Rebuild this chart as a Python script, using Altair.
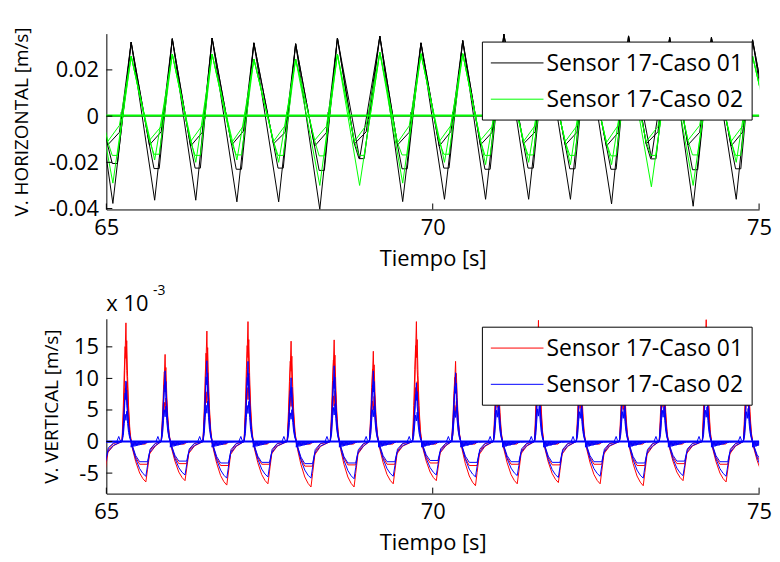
import altair as alt
import pandas as pd

FONT = "Open Sans"
FS_TICK = 22
FS_XT = 22
FS_YT = 19
FS_LEG = 23
W = 657
H1 = 177
H2 = 176

x_ticks = [65, 70, 75]
h_ticks = [-0.04, -0.02, 0.0, 0.02]
v_ticks = [-5, 0, 5, 10, 15]
h_domain = [-0.0404, 0.0357]
v_domain = [-8.25, 19.45]
legend_labels = ["Sensor 17-Caso 01", "Sensor 17-Caso 02"]

# ---------------- top panel: V. HORIZONTAL [m/s] ----------------
h_peak_t = [64.75, 65.38, 66.01, 66.62, 67.26, 67.90, 68.54, 69.19, 69.82,
            70.46, 71.09, 71.73, 72.36, 73.00, 73.63, 74.27, 74.90, 75.53]
h_trough_t = [65.10, 65.74, 66.37, 67.00, 67.64, 68.27, 68.88, 69.54, 70.18,
              70.81, 71.47, 72.11, 72.74, 73.35, 73.99, 74.65, 75.28]
blk_peak = [0.031, 0.032, 0.0335, 0.0338, 0.0317, 0.0313, 0.0338, 0.0346, 0.0317,
            0.0327, 0.0355, 0.032, 0.031, 0.0347, 0.034, 0.034, 0.033, 0.032]
blk_deep = [-0.0378, -0.0364, -0.0364, -0.0371, -0.0371, -0.0404, -0.0184, -0.037, -0.036,
            -0.036, -0.036, -0.036, -0.038, -0.018, -0.039, -0.036, -0.036]
blk_knee = [-0.0125, -0.0125, -0.013, -0.0125, -0.012, -0.013, -0.012, -0.0125, -0.013,
            -0.0125, -0.012, -0.0125, -0.013, -0.012, -0.0125, -0.013, -0.0125]
blk_mid = [-0.0205, -0.0227, -0.0225, -0.023, -0.0225, -0.0235, -0.0184, -0.0228, -0.0225,
           -0.023, -0.0225, -0.0228, -0.023, -0.0185, -0.0232, -0.0228, -0.0225]
blk_low = [-0.007, -0.0068, -0.007, -0.0065, -0.007, -0.0072, -0.0068, -0.007, -0.0066,
           -0.007, -0.0068, -0.007, -0.0072, -0.0068, -0.007, -0.0068, -0.007]
grn_peak = [0.025, 0.026, 0.0268, 0.0268, 0.0247, 0.0247, 0.0268, 0.0276, 0.027,
            0.027, 0.026, 0.026, 0.026, 0.026, 0.027, 0.026, 0.026, 0.026]
grn_deep = [-0.029, -0.019, -0.020, -0.019, -0.020, -0.030, -0.030, -0.029, -0.020,
            -0.021, -0.020, -0.021, -0.021, -0.0306, -0.030, -0.020, -0.020]
grn_knee = [-0.011, -0.0105, -0.011, -0.0115, -0.011, -0.0105, -0.011, -0.0115, -0.011,
            -0.0105, -0.011, -0.011, -0.0115, -0.011, -0.0105, -0.011, -0.011]
grn_mid = [-0.017, -0.0165, -0.017, -0.0168, -0.017, -0.0172, -0.017, -0.0168, -0.0165,
           -0.017, -0.0168, -0.017, -0.0172, -0.017, -0.0168, -0.017, -0.0165]
grn_low = [-0.004, -0.0045, -0.004, -0.0042, -0.004, -0.0045, -0.004, -0.0042, -0.004,
           -0.0045, -0.004, -0.0042, -0.004, -0.0045, -0.004, -0.0042, -0.004]
grn_zero = [0.0003, 0.0003]
h_zero_t = [64.9, 75.1]
# offsets of the knee / flat bottom / zero-crossing marks, read from one cycle
H_KNEE_DT = -0.08
H_FLAT_DT = [-0.01, 0.07]
H_LOW_DT = 0.10
H_CROSS_DT = [0.124, 0.13, 0.136, 0.142]
H_CROSS_V = [0.0, 0.0018, -0.0012, 0.0]

# ---------------- bottom panel: V. VERTICAL [m/s] (x 1e-3) ----------------
v_spike_t = [64.66, 65.30, 65.90, 66.54, 67.17, 67.83, 68.49, 69.09, 69.75,
             70.35, 70.99, 71.62, 72.26, 72.92, 73.53, 74.19, 74.82, 75.46]
red_peak = [15.0, 18.8, 13.8, 17.5, 19.0, 15.9, 16.1, 14.3, 19.0,
            12.7, 15.5, 19.2, 15.0, 14.5, 15.5, 19.3, 16.0, 15.0]
blue_peak = [10.0, 9.6, 11.2, 12.8, 12.7, 10.1, 12.0, 11.2, 9.3,
             10.9, 11.0, 11.5, 10.5, 10.5, 11.0, 11.0, 10.5, 10.0]
red_deep = [-5.8, -6.4, -6.2, -6.9, -6.7, -7.2, -7.2, -6.7, -6.2,
            -7.0, -6.7, -6.5, -6.7, -7.0, -6.2, -6.4, -6.0]
blue_deep = [-4.5, -5.5, -5.3, -5.8, -5.6, -5.8, -5.9, -5.5, -5.3,
             -5.6, -5.4, -5.7, -5.5, -5.8, -5.4, -5.5, -5.2]
red_mid = [-3.2, -3.6, -3.5, -3.8, -3.6, -3.9, -3.7, -3.6, -3.4,
           -3.8, -3.6, -3.7, -3.6, -3.8, -3.5, -3.6, -3.4]
blue_mid = [-3.0, -3.2, -3.1, -3.4, -3.3, -3.5, -3.4, -3.2, -3.0,
            -3.3, -3.2, -3.3, -3.2, -3.4, -3.1, -3.2, -3.0]
# spike profile (time offset, fraction of the spike height) for the three traces
SPK_DT = [-0.06, -0.04, -0.025, -0.012, 0.0, 0.012, 0.025, 0.04, 0.06, 0.08]
SPK_A = [0.0, 0.2, 0.45, 0.75, 1.0, 0.6, 0.45, 0.25, 0.08, 0.0]
SPK_B = [0.0, 0.3, 0.6, 0.8, 0.7, 0.85, 0.55, 0.3, 0.1, 0.0]
SPK_C = [0.0, 0.1, 0.3, 0.45, 0.35, 0.5, 0.3, 0.15, 0.05, 0.0]
# negative lobe profiles (time offset, fraction of the lobe depth)
DEEP_DT = [0.10, 0.15, 0.21, 0.26, 0.305, 0.33, 0.37, 0.45]
DEEP_FR = [0.18, 0.5, 0.78, 0.92, 1.0, 0.7, 0.22, 0.05]
MID_DT = [0.10, 0.15, 0.21, 0.33, 0.36, 0.45]
MID_FR = [0.22, 0.7, 1.0, 1.0, 0.55, 0.2]
# decaying ringing just below zero after each spike
OSC_DT = [0.08, 0.09, 0.10, 0.11, 0.12, 0.13, 0.14, 0.15, 0.16, 0.17, 0.18, 0.19, 0.20, 0.21,
          0.22, 0.23, 0.24, 0.25, 0.26, 0.27, 0.28, 0.29, 0.30, 0.31, 0.32, 0.33, 0.34, 0.35, 0.36]
OSC_BLUE = [-0.9, 0, -0.85, 0, -0.8, 0, -0.75, 0, -0.7, 0, -0.65, 0, -0.6, 0,
            -0.55, 0, -0.5, 0, -0.45, 0, -0.4, 0, -0.3, 0, -0.25, 0, -0.2, 0, -0.1]
OSC_RED_DT = [0.08, 0.30, 0.33]
OSC_RED = [-0.4, -0.4, 0.0]
BUMP_DT = [-0.14, -0.11, -0.09]
BUMP_V = [0.0, 0.8, 0.2]
v_zero_t = [64.9, 75.1]
v_zero = [0.0, 0.0]

rows_top, rows_bot = [], []


def add(rows, name, pts):
    for i, (t, v) in enumerate(pts):
        rows.append({"t": t, "v": v, "trace": name, "i": i})


def h_deep(pk_v, tr_v):
    pts = []
    for k in range(len(h_trough_t)):
        pts += [(h_peak_t[k], pk_v[k]), (h_trough_t[k], tr_v[k])]
    pts.append((h_peak_t[-1], pk_v[-1]))
    return pts


def h_mid(pk_v, knee, mid):
    pts = []
    for k in range(len(h_trough_t)):
        tr = h_trough_t[k]
        pts += [(h_peak_t[k], pk_v[k]), (tr + H_KNEE_DT, knee[k]),
                (tr + H_FLAT_DT[0], mid[k]), (tr + H_FLAT_DT[1], mid[k])]
    pts.append((h_peak_t[-1], pk_v[-1]))
    return pts


def h_low(pk_v, knee, low):
    pts = []
    for k in range(len(h_trough_t)):
        tr = h_trough_t[k]
        pts += [(h_peak_t[k], pk_v[k]), (tr + H_KNEE_DT, knee[k]), (tr + H_LOW_DT, low[k])]
    pts.append((h_peak_t[-1], pk_v[-1]))
    return pts


def h_flat():
    pts = [(h_zero_t[0], 0.0)]
    for tr in h_trough_t:
        pts += [(tr + d, v) for d, v in zip(H_CROSS_DT, H_CROSS_V)]
    pts.append((h_zero_t[1], 0.0))
    return pts


add(rows_top, "k_flat", h_flat())
add(rows_top, "k_low", h_low(blk_peak, blk_knee, blk_low))
add(rows_top, "k_mid", h_mid(blk_peak, blk_knee, blk_mid))
add(rows_top, "k_deep", h_deep(blk_peak, blk_deep))
add(rows_top, "g_low", h_low(grn_peak, grn_knee, grn_low))
add(rows_top, "g_mid", h_mid(grn_peak, grn_knee, grn_mid))
add(rows_top, "g_deep", h_deep(grn_peak, grn_deep))
add(rows_top, "g_flat", list(zip(h_zero_t, grn_zero)))


def v_trace(peaks, frac, lobe_dt, lobe_fr, lobe_v):
    pts = []
    n = len(v_spike_t)
    for k in range(n):
        s = v_spike_t[k]
        pts += [(s + d, f * peaks[k]) for d, f in zip(SPK_DT, frac)]
        if k < n - 1:
            pts += [(s + d, f * lobe_v[k]) for d, f in zip(lobe_dt, lobe_fr)]
    return pts


def v_ring(peaks, frac, osc_dt, osc_v, bump):
    pts = []
    n = len(v_spike_t)
    for k in range(n):
        s = v_spike_t[k]
        pts += [(s + d, f * peaks[k]) for d, f in zip(SPK_DT, frac)]
        if k < n - 1:
            pts += [(s + d, v) for d, v in zip(osc_dt, osc_v)]
            if bump:
                nxt = v_spike_t[k + 1]
                pts += [(nxt + d, v) for d, v in zip(BUMP_DT, BUMP_V)]
    return pts


add(rows_bot, "r_ring", v_ring(red_peak, SPK_C, OSC_RED_DT, OSC_RED, False))
add(rows_bot, "r_mid", v_trace(red_peak, SPK_B, MID_DT, MID_FR, red_mid))
add(rows_bot, "r_deep", v_trace(red_peak, SPK_A, DEEP_DT, DEEP_FR, red_deep))
add(rows_bot, "b_mid", v_trace(blue_peak, SPK_B, MID_DT, MID_FR, blue_mid))
add(rows_bot, "b_deep", v_trace(blue_peak, SPK_A, DEEP_DT, DEEP_FR, blue_deep))
add(rows_bot, "b_ring", v_ring(blue_peak, SPK_C, OSC_DT, OSC_BLUE, True))
add(rows_bot, "b_zero", list(zip(v_zero_t, v_zero)))

df_top = pd.DataFrame(rows_top)
df_bot = pd.DataFrame(rows_bot)

minus_fix = "replace(datum.label, '\u2212', '-')"

AX = dict(labelFont=FONT, titleFont=FONT, labelFontSize=FS_TICK,
          titleFontWeight="normal", labelColor="black", titleColor="black",
          ticks=False, grid=False, domainColor="black", domainWidth=1)


def x_enc():
    return alt.X("t:Q", scale=alt.Scale(domain=[65, 75], nice=False, zero=False),
                 axis=alt.Axis(values=x_ticks, format="d", title="Tiempo [s]",
                               titleFontSize=FS_XT,
                               labelFlush=False, labelPadding=8, titlePadding=10, **AX))


def y_enc(domain, ticks, fmt, title, extent, tpad):
    return alt.Y("v:Q", scale=alt.Scale(domain=domain, nice=False, zero=False),
                 axis=alt.Axis(values=ticks, format=fmt, labelExpr=minus_fix, title=title,
                               titleFontSize=FS_YT, labelPadding=8, titlePadding=tpad,
                               minExtent=extent, maxExtent=extent, **AX))


def lines(df, names, color, width=1.0):
    return alt.Chart(df).transform_filter(
        alt.FieldOneOfPredicate(field="trace", oneOf=names)
    ).mark_line(color=color, strokeWidth=width, clip=True)


def panel(df, layers, domain, ticks, fmt, title, extent, tpad, height, colors, extra):
    xe = x_enc()
    ye = y_enc(domain, ticks, fmt, title, extent, tpad)
    charts = []
    for names, color, width in layers:
        charts.append(lines(df, names, color, width).encode(
            x=xe, y=ye, detail="trace:N", order="i:Q"))
    xt = pd.DataFrame({"t": x_ticks, "v": [domain[0]] * len(x_ticks)})
    charts.append(alt.Chart(xt).mark_rule(color="black", strokeWidth=1).encode(
        x=xe, y=alt.value(height), y2=alt.value(height - 6)))
    yt = pd.DataFrame({"t": [65] * len(ticks), "v": ticks})
    charts.append(alt.Chart(yt).mark_rule(color="black", strokeWidth=1).encode(
        y=ye, x=alt.value(0), x2=alt.value(6)))
    one = pd.DataFrame({"a": [0]})
    charts.append(alt.Chart(one).mark_rect(fill="white", stroke="black", strokeWidth=1).encode(
        x=alt.value(378.5), x2=alt.value(650), y=alt.value(8.5), y2=alt.value(87)))
    for j, (lab, col) in enumerate(zip(legend_labels, colors)):
        yy = 29.5 + 36.5 * j
        charts.append(alt.Chart(one).mark_rule(color=col, strokeWidth=1).encode(
            x=alt.value(387), x2=alt.value(440), y=alt.value(yy)))
        charts.append(alt.Chart(one).mark_text(
            text=lab, align="left", baseline="middle", font=FONT, fontSize=FS_LEG, color="black"
        ).encode(x=alt.value(443), y=alt.value(yy + 1)))
    charts += extra
    return alt.layer(*charts).properties(width=W, height=height)


top = panel(
    df_top,
    [(["k_flat", "k_low", "k_mid", "k_deep"], "#000000", 1.0),
     (["g_low", "g_mid", "g_deep"], "#00ff00", 1.0),
     (["g_flat"], "#00ff00", 2.0)],
    h_domain, h_ticks, ".2~f", "V. HORIZONTAL [m/s]", 62, 13, H1,
    ["#000000", "#00ff00"], [])

one = pd.DataFrame({"a": [0]})
exp_text = [
    alt.Chart(one).mark_text(text="x 10", align="left", baseline="alphabetic",
                             font=FONT, fontSize=FS_TICK, color="black").encode(
        x=alt.value(0), y=alt.value(-8)),
    alt.Chart(one).mark_text(text="-3", align="left", baseline="alphabetic",
                             font=FONT, fontSize=14, color="black").encode(
        x=alt.value(47), y=alt.value(-24)),
]

bottom = panel(
    df_bot,
    [(["r_ring", "r_mid", "r_deep"], "#ff0000", 1.0),
     (["b_mid", "b_deep", "b_ring"], "#0000ff", 1.0),
     (["b_zero"], "#0000ff", 2.0)],
    v_domain, v_ticks, "d", "V. VERTICAL [m/s]", 34, 11, H2,
    ["#ff0000", "#0000ff"], exp_text)

chart = alt.vconcat(top, bottom, spacing=15).properties(
    padding={"left": 5, "top": 17, "right": 0, "bottom": 0},
    background="white"
).configure_view(stroke=None)

chart.save("out.html", embed_options={"renderer": "svg", "actions": False})
